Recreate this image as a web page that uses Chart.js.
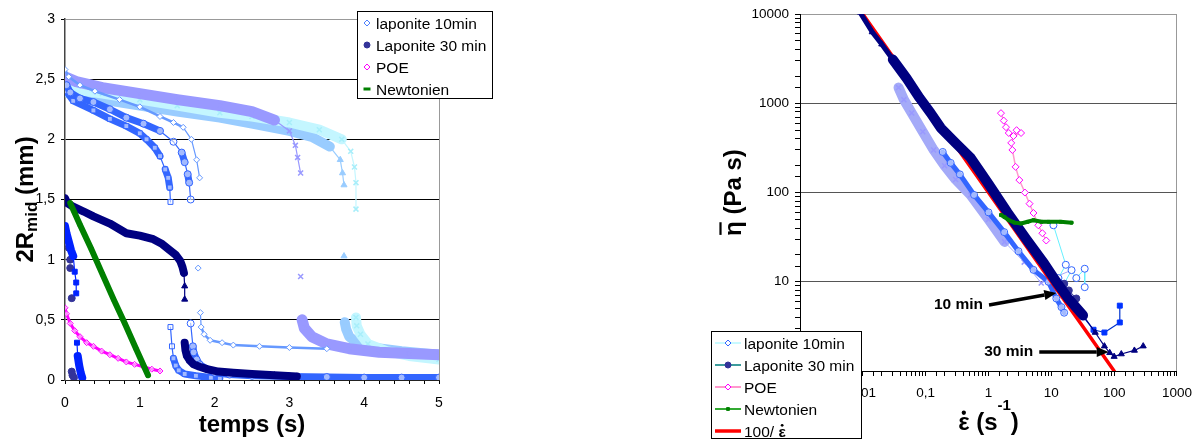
<!DOCTYPE html>
<html><head><meta charset="utf-8">
<script src="https://cdn.jsdelivr.net/npm/chart.js@4.4.0/dist/chart.umd.min.js"></script>
<style>
html,body{margin:0;padding:0;background:#fff;width:1201px;height:441px;overflow:hidden}
#l{position:absolute;left:0;top:0}
#r{position:absolute;left:600px;top:0}
</style></head>
<body>
<canvas id="l" width="600" height="441"></canvas>
<canvas id="r" width="601" height="441"></canvas>
<script>
// ===== LEFT CHART DATA: temps (s) -> 2R_mid (mm) =====
const lap10DiamT = [0, 0.05, 0.2, 0.4, 0.73, 1.0, 1.27, 1.45, 1.58, 1.69, 1.76, 1.8, 1.78, 1.81, 1.82, 1.86, 1.94, 2.1, 2.25, 2.6, 3.0, 3.5];
const lap10DiamR = [2.58, 2.52, 2.45, 2.4, 2.33, 2.27, 2.19, 2.14, 2.1, 2.0, 1.83, 1.68, 0.93, 0.56, 0.44, 0.38, 0.33, 0.31, 0.29, 0.28, 0.27, 0.26];
const lap10CircT = [0.02, 0.07, 0.2, 0.38, 0.6, 0.82, 1.05, 1.27, 1.45, 1.56, 1.6, 1.64, 1.66, 1.68, 1.68, 1.71, 1.72, 1.76, 1.8, 1.9, 2.0, 2.2, 2.5, 3.0, 3.5, 4.0, 4.5, 5.0];
const lap10CircR = [2.45, 2.39, 2.34, 2.31, 2.25, 2.18, 2.13, 2.07, 1.98, 1.89, 1.81, 1.71, 1.64, 1.5, 0.47, 0.28, 0.23, 0.17, 0.13, 0.09, 0.06, 0.045, 0.035, 0.03, 0.025, 0.02, 0.02, 0.02];
const lap10SqT = [0.02, 0.11, 0.38, 0.6, 0.82, 1.0, 1.09, 1.2, 1.27, 1.34, 1.38, 1.4, 1.41, 1.41, 1.43, 1.45, 1.48, 1.52, 1.6, 1.75, 1.95, 2.07];
const lap10SqR = [2.4, 2.32, 2.24, 2.17, 2.11, 2.05, 2.0, 1.93, 1.86, 1.75, 1.68, 1.6, 1.48, 0.44, 0.28, 0.18, 0.12, 0.08, 0.05, 0.035, 0.02, 0.015];
const lap10TriT = [0.05, 0.5, 1.0, 1.5, 2.07, 2.5, 3.0, 3.3, 3.54, 3.68, 3.71, 3.73, 3.73, 3.74, 3.76, 3.8, 3.9, 4.1, 4.5, 5.0];
const lap10TriR = [2.38, 2.33, 2.28, 2.23, 2.18, 2.13, 2.07, 2.02, 1.94, 1.83, 1.72, 1.62, 1.03, 0.48, 0.42, 0.36, 0.31, 0.27, 0.24, 0.21];
const lap10CyanT = [0.05, 0.5, 1.0, 1.5, 2.07, 2.5, 3.0, 3.4, 3.7, 3.82, 3.87, 3.89, 3.89, 3.89, 3.9, 3.95, 4.05, 4.3, 4.6, 5.0];
const lap10CyanR = [2.42, 2.38, 2.33, 2.28, 2.22, 2.19, 2.14, 2.08, 2.0, 1.9, 1.77, 1.64, 1.42, 0.52, 0.45, 0.38, 0.3, 0.24, 0.2, 0.17];
const lap10LavT = [0, 0.15, 0.5, 1.0, 1.5, 2.07, 2.5, 2.8, 3.0, 3.08, 3.11, 3.15, 3.15, 3.17, 3.2, 3.3, 3.5, 3.8, 4.2, 4.6, 5.0];
const lap10LavR = [2.52, 2.48, 2.43, 2.38, 2.33, 2.28, 2.23, 2.16, 2.07, 1.95, 1.85, 1.72, 0.86, 0.5, 0.43, 0.36, 0.3, 0.26, 0.23, 0.22, 0.21];
const lap30TriT = [0, 0.03, 0.11, 0.25, 0.38, 0.6, 0.82, 1.0, 1.18, 1.3, 1.4, 1.48, 1.54, 1.57, 1.59, 1.6, 1.6, 1.6, 1.61, 1.63, 1.67, 1.72, 1.8, 1.9, 2.05, 2.25, 2.5, 2.8, 3.1];
const lap30TriR = [1.51, 1.47, 1.44, 1.4, 1.36, 1.3, 1.22, 1.2, 1.17, 1.13, 1.08, 1.04, 0.99, 0.94, 0.89, 0.78, 0.67, 0.31, 0.25, 0.2, 0.16, 0.13, 0.11, 0.09, 0.07, 0.06, 0.05, 0.04, 0.03];
const lap30SqT = [0, 0.02, 0.05, 0.08, 0.11, 0.13, 0.15, 0.15, 0.16, 0.17, 0.19, 0.21, 0.23];
const lap30SqR = [1.28, 1.22, 1.15, 1.08, 1.03, 0.9, 0.81, 0.72, 0.31, 0.2, 0.12, 0.06, 0.02];
const lap30CircT = [0.02, 0.05, 0.07, 0.07, 0.09, 0.09, 0.1, 0.12];
const lap30CircR = [1.19, 1.1, 1.0, 0.93, 0.68, 0.07, 0.04, 0.02];
const poeT = [0, 0.02, 0.07, 0.13, 0.2, 0.29, 0.38, 0.49, 0.6, 0.71, 0.82, 0.93, 1.05, 1.16, 1.27];
const poeR = [0.6, 0.55, 0.47, 0.41, 0.36, 0.31, 0.28, 0.24, 0.21, 0.18, 0.15, 0.13, 0.11, 0.09, 0.075];
const newtT = [0.07, 0.2, 0.35, 0.5, 0.65, 0.8, 0.95, 1.11];
const newtR = [1.47, 1.29, 1.09, 0.88, 0.67, 0.47, 0.26, 0.04];
const leftLegendLabels = ['laponite 10min', 'Laponite 30 min', 'POE', 'Newtonien'];

// ===== RIGHT CHART DATA: strain rate (1/s) -> apparent viscosity (Pa s) =====
const rLap30TriE = [0.009, 0.0141, 0.02, 0.03, 0.05, 0.08, 0.12, 0.174, 0.3, 0.52, 1.0, 2.0, 4.0, 7.7, 12, 19, 32, 50, 70, 85, 100, 130, 210, 290];
const rLap30TriEta = [10500, 6300, 4600, 3100, 1900, 1150, 780, 530, 360, 245, 125, 60, 30, 16, 10, 6.4, 4.2, 2.7, 1.9, 1.6, 1.45, 1.55, 1.7, 1.9];
const rLap30SqE = [17, 30, 47, 70, 123, 123];
const rLap30SqEta = [7.5, 4.3, 2.9, 2.7, 3.5, 5.4];
const rLap30CircE = [13, 16, 19, 25];
const rLap30CircEta = [8.5, 9.5, 8, 6.5];
const rLap10CircE = [0.187, 0.25, 0.35, 0.59, 1.0, 1.78, 3.0, 5.2, 9, 12, 14.5, 16];
const rLap10CircEta = [285, 215, 160, 94, 60, 36, 22, 13.6, 10, 6.5, 5.2, 4.5];
const rLap10LavE = [0.037, 0.045, 0.06, 0.09, 0.134, 0.2, 0.3, 0.52, 1.0, 1.8, 3.7, 6.9, 21];
const rLap10LavEta = [1500, 1100, 780, 480, 300, 200, 140, 94, 50, 28, 16.6, 9.7, 13.5];
const rLap10CyanE = [10.8, 17, 13, 16, 21, 25, 34, 34];
const rLap10CyanEta = [43, 15.5, 11, 9.5, 13.5, 11, 14, 8.7];
const rPoeE = [1.58, 1.75, 1.9, 2.1, 2.5, 3.3, 2.8, 2.3, 2.4, 2.7, 3.1, 3.8, 4.5, 5.2, 6.2, 7.2, 8.3];
const rPoeEta = [776, 640, 540, 465, 430, 465, 500, 360, 300, 194, 138, 100, 75, 59, 43, 35, 29];
const rNewtE = [1.58, 1.8, 2.1, 2.6, 3.3, 4.2, 5.2, 7, 9, 14, 21];
const rNewtEta = [56, 53, 49, 46, 45, 47, 49, 47, 47, 47, 46];
const rRefE = [0.008, 0.01, 0.1, 1, 10, 100];
const rRefEta = [12500, 10000, 1000, 100, 10, 1];
const rightLegendLabels = ['laponite 10min', 'Laponite 30 min', 'POE', 'Newtonien', '100/ '];
const noteText = ['10 min', '30 min'];
const noteFrom = [[1.02, 5.5], [6.43, 1.63]];
const noteTo = [[12, 7.5], [82, 1.63]];

// ===== helpers =====
const FAM = '"Liberation Sans", Arial, sans-serif';
Chart.defaults.font.family = FAM;
Chart.defaults.color = '#000';
Chart.defaults.animation = false;
const H = Chart.helpers;
const pts = (xs, ys) => xs.map((x, i) => ({x: x, y: ys[i]}));
const TR = 'rgba(0,0,0,0)';

function series(label, xs, ys, st) {
  const d = {
    label: label, data: pts(xs, ys), showLine: (st.line || 0) > 0,
    borderColor: st.color, borderWidth: st.line || 0,
    pointStyle: st.shape, pointRadius: st.size, pointHoverRadius: st.size,
    pointBorderColor: st.mcolor || st.color,
    pointBackgroundColor: st.open ? (st.fill || '#fff') : (st.mcolor || st.color),
    pointBorderWidth: st.pbw || 1,
    borderJoinStyle: 'round', borderCapStyle: 'round'
  };
  const seg = {};
  if (st.jump) {
    seg.borderColor = c => Math.abs(c.p1.y - c.p0.y) > st.jump ? TR : st.color;
    seg.borderWidth = c => Math.abs(c.p1.y - c.p0.y) > 10 ? Math.min(st.line, 1.2) : st.line;
  }
  if (st.segW) seg.borderWidth = c => st.segW(c.chart.data.datasets[c.datasetIndex].data[c.p0DataIndex].x);
  d.segment = seg;
  return d;
}

function font(p) { return (p.bold ? 'bold ' : '') + p.size + 'px ' + FAM; }
function drawParts(ctx, parts, cx, cy, rot, align) {
  ctx.save();
  ctx.translate(cx, cy); ctx.rotate(rot || 0);
  ctx.fillStyle = '#000'; ctx.textBaseline = 'alphabetic'; ctx.textAlign = 'left';
  let total = 0;
  parts.forEach(p => { ctx.font = font(p); p.w = ctx.measureText(p.t).width; total += p.w; });
  let x = align === 'left' ? 0 : -total / 2;
  parts.forEach(p => {
    ctx.font = font(p);
    ctx.fillText(p.t, x, p.dy || 0);
    if (p.deco === 'bar') ctx.fillRect(x + 1, -p.size * 0.9, p.w - 2, 2.2);
    if (p.deco === 'dot') { ctx.beginPath(); ctx.arc(x + p.w * 0.5, -p.size * 0.72, p.size * 0.09, 0, Math.PI * 2); ctx.fill(); }
    x += p.w;
  });
  ctx.restore();
}

function drawLegend(ctx, box, items, o) {
  ctx.save();
  ctx.fillStyle = '#fff'; ctx.fillRect(box.x, box.y, box.w, box.h);
  ctx.strokeStyle = '#000'; ctx.lineWidth = 1;
  ctx.strokeRect(box.x + 0.5, box.y + 0.5, box.w - 1, box.h - 1);
  items.forEach((it, i) => {
    const y = o.y0 + i * o.dy;
    if (it.line) {
      ctx.strokeStyle = it.line; ctx.lineWidth = it.lw || 1.5;
      ctx.beginPath(); ctx.moveTo(o.lx0, y); ctx.lineTo(o.lx1, y); ctx.stroke();
    }
    if (it.shape) {
      ctx.fillStyle = it.open ? '#fff' : it.color; ctx.strokeStyle = it.color; ctx.lineWidth = 1;
      H.drawPoint(ctx, {pointStyle: it.shape, radius: it.r || 3, borderWidth: 1, rotation: 0}, o.mx, y);
    }
    if (it.dash) { ctx.fillStyle = it.dash; ctx.fillRect(o.mx - 3.5, y - 1.5, 7, 3); }
    drawParts(ctx, it.parts, o.tx, y + 5.5, 0, 'left');
  });
  ctx.restore();
}

// ===== LEFT CHART =====
const J = 40;
const HALF = 'rgba(255,255,255,0.55)';
const leftDatasets = [
  series('Newtonien', newtT, newtR, {color: '#008000', line: 6, shape: 'rect', size: 2.5}),
  series('POE', poeT, poeR, {color: '#FF00FF', line: 3, shape: 'rectRot', size: 3, open: true, fill: HALF, jump: J}),
  series('Laponite 30 min a', lap30TriT, lap30TriR, {color: '#000080', line: 8, shape: 'triangle', size: 3.5, jump: J}),
  series('Laponite 30 min b', lap30SqT, lap30SqR, {color: '#0022FF', line: 8, shape: 'rect', size: 3.5, jump: J}),
  series('Laponite 30 min c', lap30CircT, lap30CircR, {color: '#333399', shape: 'circle', size: 3.5}),
  series('laponite 10min a', lap10DiamT, lap10DiamR, {color: '#6699FF', line: 2.5, shape: 'rectRot', size: 3, open: true, jump: J}),
  series('laponite 10min b', lap10CircT, lap10CircR, {color: '#3366FF', line: 7, shape: 'circle', size: 3.5, open: true, fill: HALF, jump: J}),
  series('laponite 10min c', lap10SqT, lap10SqR, {color: '#3366FF', line: 7, shape: 'rect', size: 3.5, open: true, fill: HALF, jump: J}),
  series('laponite 10min d', lap10LavT, lap10LavR, {color: '#9999FF', line: 11, shape: 'crossRot', size: 3.5, pbw: 1.5, jump: J}),
  series('laponite 10min e', lap10CyanT, lap10CyanR, {color: '#C4F6FF', line: 10, shape: 'crossRot', size: 3.5, pbw: 1.5, mcolor: '#A8EEFA', jump: J}),
  series('laponite 10min f', lap10TriT, lap10TriR, {color: '#99CCFF', line: 10, shape: 'triangle', size: 3.5, jump: J})
];

const leftLegendItems = [
  {parts: [{t: leftLegendLabels[0], size: 15.5}], shape: 'rectRot', color: '#4D80FF', open: true, r: 3},
  {parts: [{t: leftLegendLabels[1], size: 15.5}], shape: 'circle', color: '#333399', r: 3},
  {parts: [{t: leftLegendLabels[2], size: 15.5}], shape: 'rectRot', color: '#FF00FF', open: true, r: 3},
  {parts: [{t: leftLegendLabels[3], size: 15.5}], dash: '#008000'}
];

const leftDecor = {
  id: 'leftDecor',
  afterDraw(chart) {
    const ctx = chart.ctx, a = chart.chartArea;
    drawParts(ctx, [
      {t: '2R', size: 24, bold: true},
      {t: 'mid', size: 17, bold: true, dy: 4},
      {t: ' (mm)', size: 24, bold: true}
    ], 33, (a.top + a.bottom) / 2, -Math.PI / 2, 'center');
    drawLegend(ctx, {x: 357, y: 11, w: 136, h: 88}, leftLegendItems, {y0: 23, dy: 22, mx: 367, tx: 376});
  }
};

new Chart(document.getElementById('l'), {
  type: 'scatter',
  data: {datasets: leftDatasets},
  options: {
    responsive: false, animation: false,
    layout: {padding: {top: 19, right: 161, left: 0, bottom: 0}},
    plugins: {legend: {display: false}, tooltip: {enabled: false}},
    scales: {
      x: {
        type: 'linear', min: 0, max: 5,
        afterFit: s => { s.height = 61; },
        ticks: {stepSize: 0.2, autoSkip: false, maxRotation: 0, padding: 11, font: {size: 14},
          callback: v => Math.abs(v - Math.round(v)) < 1e-6 ? String(Math.round(v)) : ''},
        grid: {color: c => (c.tick && Math.abs(c.tick.value - 5) < 1e-6) ? '#999' : TR, tickColor: '#000', tickLength: 4, lineWidth: 1},
        border: {color: '#222', width: 1},
        title: {display: true, text: 'temps (s)', font: {size: 24, weight: 'bold'}, padding: {top: 0, bottom: 1}, color: '#000'}
      },
      y: {
        type: 'linear', min: 0, max: 3,
        afterFit: s => { s.width = 65; },
        ticks: {stepSize: 0.5, padding: 6, font: {size: 14}, callback: v => String(v).replace('.', ',')},
        grid: {color: c => (c.tick && c.tick.value === 3) ? '#999' : '#000', tickColor: '#000', tickLength: 4, lineWidth: 1},
        border: {color: '#444', width: 1.5}
      }
    }
  },
  plugins: [leftDecor]
});

// ===== RIGHT CHART =====
const rightDatasets = [
  series('Newtonien', rNewtE, rNewtEta, {color: '#008000', line: 4, shape: 'rect', size: 2}),
  series('POE', rPoeE, rPoeEta, {color: '#FF99CC', mcolor: '#FF00FF', line: 1.5, shape: 'rectRot', size: 3.5, open: true}),
  series('Laponite 30 min', rLap30TriE, rLap30TriEta, {color: '#000080', line: 7, shape: 'triangle', size: 3.5, segW: x => x < 0.03 ? 5 : (x < 25 ? 10 : 1.2)}),
  series('100/e', rRefE, rRefEta, {color: '#FF0000', line: 3.5, shape: 'circle', size: 0}),
  series('Laponite 30 min b', rLap30SqE, rLap30SqEta, {color: '#0033CC', mcolor: '#0033FF', line: 1.2, shape: 'rect', size: 3.5}),
  series('Laponite 30 min c', rLap30CircE, rLap30CircEta, {color: '#333399', line: 1, shape: 'circle', size: 3.5}),
  series('laponite 10min', rLap10CircE, rLap10CircEta, {color: '#3366FF', line: 5, shape: 'circle', size: 3.5, open: true, fill: HALF}),
  series('laponite 10min b', rLap10CyanE, rLap10CyanEta, {color: '#66F0FF', mcolor: '#3366FF', line: 1, shape: 'circle', size: 3.5, open: true}),
  series('laponite 10min c', rLap10LavE, rLap10LavEta, {color: '#A4AAF8', mcolor: '#9999FF', line: 9, shape: 'crossRot', size: 3.5, pbw: 1.5, segW: x => x < 1.2 ? 10 : 1})
];

const isPow10 = v => v > 0 && Math.abs(Math.log10(v) - Math.round(Math.log10(v))) < 1e-6;
const powLabel = v => {
  const e = Math.round(Math.log10(v));
  return e < 0 ? '0,' + '0'.repeat(-e - 1) + '1' : '1' + '0'.repeat(e);
};

const rightLegendItems = [
  {parts: [{t: rightLegendLabels[0], size: 15.5}], line: '#C8FAFF', lw: 2, shape: 'rectRot', color: '#3366FF', open: true, r: 3},
  {parts: [{t: rightLegendLabels[1], size: 15.5}], line: '#3C9C9C', lw: 2, shape: 'circle', color: '#333399', r: 3},
  {parts: [{t: rightLegendLabels[2], size: 15.5}], line: '#FF99CC', lw: 2, shape: 'rectRot', color: '#FF00FF', open: true, r: 3},
  {parts: [{t: rightLegendLabels[3], size: 15.5}], line: '#33AA33', lw: 2, shape: 'rect', color: '#008000', r: 2},
  {parts: [{t: rightLegendLabels[4], size: 15.5}, {t: 'ε', size: 15.5, bold: true, deco: 'dot'}], line: '#FF0000', lw: 3.5}
];

const rightDecor = {
  id: 'rightDecor',
  afterDatasetsDraw(chart) {
    const ctx = chart.ctx, xs = chart.scales.x, ys = chart.scales.y;
    ctx.save();
    noteText.forEach((t, i) => {
      const x0 = xs.getPixelForValue(noteFrom[i][0]), y0 = ys.getPixelForValue(noteFrom[i][1]);
      const x1 = xs.getPixelForValue(noteTo[i][0]), y1 = ys.getPixelForValue(noteTo[i][1]);
      const ang = Math.atan2(y1 - y0, x1 - x0), hl = 12, hw = 5;
      const bx = x1 - hl * Math.cos(ang), by = y1 - hl * Math.sin(ang);
      ctx.strokeStyle = '#000'; ctx.lineWidth = 3.5;
      ctx.beginPath(); ctx.moveTo(x0, y0); ctx.lineTo(bx, by); ctx.stroke();
      ctx.fillStyle = '#000'; ctx.beginPath(); ctx.moveTo(x1, y1);
      ctx.lineTo(bx - hw * Math.sin(ang), by + hw * Math.cos(ang));
      ctx.lineTo(bx + hw * Math.sin(ang), by - hw * Math.cos(ang));
      ctx.closePath(); ctx.fill();
      ctx.font = 'bold 15.5px ' + FAM; ctx.textAlign = 'right'; ctx.textBaseline = 'middle';
      ctx.fillText(t, x0 - 6, y0);
    });
    ctx.restore();
  },
  afterDraw(chart) {
    const ctx = chart.ctx, a = chart.chartArea;
    drawParts(ctx, [
      {t: 'η', size: 24, bold: true, deco: 'bar'},
      {t: ' (Pa s)', size: 24, bold: true}
    ], 141, (a.top + a.bottom) / 2, -Math.PI / 2, 'center');
    drawParts(ctx, [
      {t: 'ε', size: 24, bold: true, deco: 'dot'},
      {t: ' (s', size: 24, bold: true},
      {t: '-1', size: 15, bold: true, dy: -20},
      {t: ')', size: 24, bold: true}
    ], (a.left + a.right) / 2, 430, 0, 'center');
    drawLegend(ctx, {x: 111, y: 331, w: 151, h: 108}, rightLegendItems, {y0: 343, dy: 22, mx: 128, lx0: 115, lx1: 141, tx: 144});
  }
};

new Chart(document.getElementById('r'), {
  type: 'scatter',
  data: {datasets: rightDatasets},
  options: {
    responsive: false, animation: false,
    layout: {padding: {top: 14, right: 24, left: 0, bottom: 0}},
    plugins: {legend: {display: false}, tooltip: {enabled: false}},
    scales: {
      x: {
        type: 'logarithmic', min: 0.001, max: 1000,
        afterFit: s => { s.height = 70; },
        ticks: {autoSkip: false, maxRotation: 0, padding: 9, font: {size: 13.5}, callback: v => isPow10(v) ? powLabel(v) : ''},
        grid: {color: c => (c.tick && isPow10(c.tick.value) && Math.round(Math.log10(c.tick.value)) === 3) ? '#999' : TR, tickColor: '#000', tickLength: 5, lineWidth: 1},
        border: {color: '#000', width: 1}
      },
      y: {
        type: 'logarithmic', min: 1, max: 10000,
        afterFit: s => { s.width = 200; },
        ticks: {autoSkip: false, padding: 6, font: {size: 13.5}, callback: v => isPow10(v) ? powLabel(v) : ''},
        grid: {color: c => {
          if (!c.tick || !isPow10(c.tick.value)) return TR;
          return Math.round(Math.log10(c.tick.value)) === 4 ? '#999' : '#555';
        }, tickColor: '#000', tickLength: 5, lineWidth: 1},
        border: {color: '#000', width: 1}
      }
    }
  },
  plugins: [rightDecor]
});
</script>
</body></html>
